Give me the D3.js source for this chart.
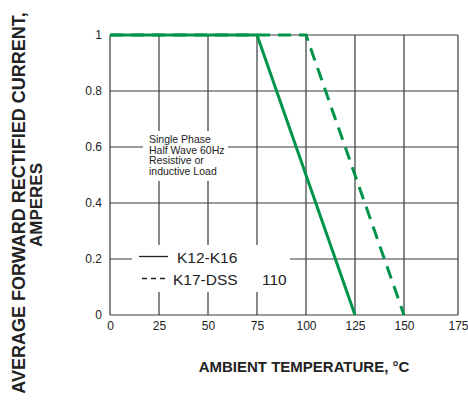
<!DOCTYPE html>
<html><head><meta charset="utf-8">
<script src="https://cdn.jsdelivr.net/npm/d3@7"></script>
<style>body{margin:0;background:#fff}svg{display:block}</style>
</head><body>
<script>
const xTicks = [0, 25, 50, 75, 100, 125, 150, 175];
const yTicks = [0, 0.2, 0.4, 0.6, 0.8, 1];
const yTickLabels = ["0", "0.2", "0.4", "0.6", "0.8", "1"];
const seriesNames = ["K12-K16", "K17-DSS"];
const k12Temp = [0, 75, 125];
const k12Current = [1, 1, 0];
const k17Temp = [0, 100, 150];
const k17Current = [1, 1, 0];
const noteLines = ["Single Phase", "Half Wave 60Hz", "Resistive or", "inductive Load"];
const legendExtra = "110";
const xTitle = "AMBIENT TEMPERATURE, °C";
const yTitle1 = "AVERAGE FORWARD RECTIFIED CURRENT,";
const yTitle2 = "AMPERES";

const W = 468, H = 402;
const svg = d3.select("body").append("svg").attr("width", W).attr("height", H)
  .style("font-family", "'Liberation Sans', Arial, sans-serif");

const x = d3.scaleLinear().domain([0, 150, 175]).range([110, 404, 458]);
const y = d3.scaleLinear().domain([0, 1]).range([315, 35]);
const green = "#00934a";
const gridC = "#3a3a3a";

// grid
const g = svg.append("g");
g.selectAll(".vg").data(xTicks).join("line")
  .attr("x1", d => x(d)).attr("x2", d => x(d)).attr("y1", y(0)).attr("y2", y(1))
  .attr("stroke", gridC).attr("stroke-width", 1.2);
g.selectAll(".hg").data(yTicks).join("line")
  .attr("y1", d => y(d)).attr("y2", d => y(d)).attr("x1", x(0)).attr("x2", x(175))
  .attr("stroke", gridC).attr("stroke-width", 1.2);

// axes labels via d3 axes (no domain, no tick lines)
const xAxis = svg.append("g").attr("transform", `translate(0,${y(0)})`)
  .call(d3.axisBottom(x).tickValues(xTicks).tickSize(0).tickPadding(6).tickFormat(d3.format("d")));
xAxis.select(".domain").remove();
xAxis.selectAll("text").attr("font-size", 12).attr("fill", "#222").attr("font-family", "'Liberation Sans', Arial, sans-serif");

const yAxis = svg.append("g").attr("transform", `translate(${x(0)},0)`)
  .call(d3.axisLeft(y).tickValues(yTicks).tickSize(0).tickPadding(8).tickFormat((d, i) => yTickLabels[i]));
yAxis.select(".domain").remove();
yAxis.selectAll("text").attr("font-size", 12).attr("fill", "#222").attr("font-family", "'Liberation Sans', Arial, sans-serif");

// note box
svg.append("rect").attr("x", 143).attr("y", 131).attr("width", 85).attr("height", 50).attr("fill", "#fff");
svg.append("g").selectAll("text").data(noteLines).join("text")
  .attr("x", 149).attr("y", (d, i) => 143 + i * 10.5)
  .attr("font-size", 10.5).attr("fill", "#222").text(d => d);

// legend box
svg.append("rect").attr("x", 132).attr("y", 245).attr("width", 158).attr("height", 47).attr("fill", "#fff");

// lines
const line = d3.line().x(d => x(d[0])).y(d => y(d[1]));
svg.append("path").datum(k17Temp.map((t, i) => [t, k17Current[i]]))
  .attr("d", line).attr("fill", "none").attr("stroke", green).attr("stroke-width", 3)
  .attr("stroke-dasharray", "13,8");
svg.append("path").datum(k12Temp.map((t, i) => [t, k12Current[i]]))
  .attr("d", line).attr("fill", "none").attr("stroke", green).attr("stroke-width", 3);

// legend
svg.append("line").attr("x1", 139).attr("x2", 168).attr("y1", 256.5).attr("y2", 256.5)
  .attr("stroke", "#222").attr("stroke-width", 1.3);
svg.append("line").attr("x1", 142).attr("x2", 169).attr("y1", 278.5).attr("y2", 278.5)
  .attr("stroke", "#222").attr("stroke-width", 1.3).attr("stroke-dasharray", "5,4");
svg.append("text").attr("x", 177).attr("y", 263).attr("font-size", 15.5).attr("fill", "#222").text(seriesNames[0]);
svg.append("text").attr("x", 173).attr("y", 285).attr("font-size", 15.5).attr("fill", "#222").text(seriesNames[1]);
svg.append("text").attr("x", 262).attr("y", 285).attr("font-size", 15.5).attr("fill", "#222").text(legendExtra);

// titles
svg.append("text").attr("x", 304).attr("y", 372).attr("text-anchor", "middle")
  .attr("font-size", 15).attr("font-weight", "bold").attr("fill", "#222").text(xTitle);
svg.append("text").attr("transform", "translate(25,203) rotate(-90)").attr("text-anchor", "middle")
  .attr("font-size", 18).attr("font-weight", "bold").attr("fill", "#222").text(yTitle1);
svg.append("text").attr("transform", "translate(42,205) rotate(-90)").attr("text-anchor", "middle")
  .attr("font-size", 17).attr("font-weight", "bold").attr("fill", "#222").text(yTitle2);
</script>
</body></html>
